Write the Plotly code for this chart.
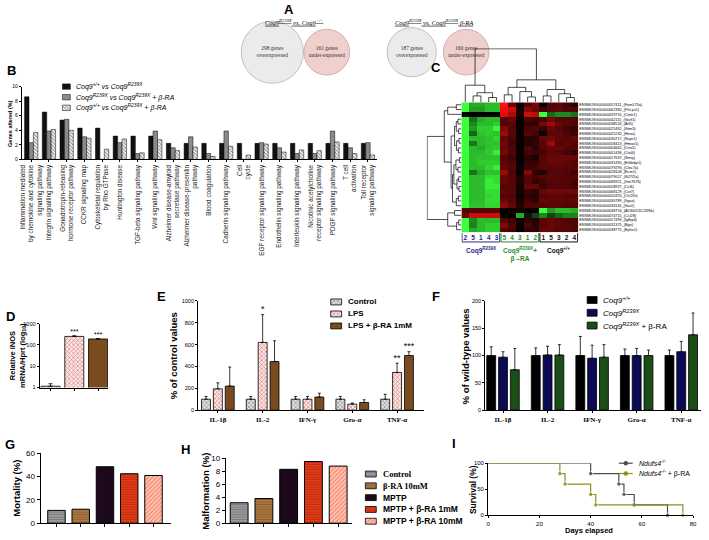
import plotly.graph_objects as go

W, H = 709, 540
def fx(p): return p / W
def fy(p): return 1 - p / H

SANS = "Liberation Sans, Arial, sans-serif"
SERIF = "Liberation Serif, Times New Roman, serif"

# ---------------- DATA ----------------
# Panel A
venn_titles = ["Coq9<sup>R239X</sup> vs. Coq9<sup>+/+</sup>",
               "Coq9<sup>R239X</sup> vs. Coq9<sup>R239X</sup> β-RA"]
venn_counts = [298, 161, 187, 160]
venn_text = ["298 genes<br>overexpressed", "161 genes<br>under-expressed",
             "187 genes<br>overexpressed", "160 genes<br>under-expressed"]
venn_pair = [0, 0, 1, 1]
venn_side = [0, 1, 0, 1]

# Panel B
pathways = [
    "Inflammation mediated<br>by chemokine and cytokine<br>signaling pathway",
    "Integrin signalling pathway",
    "Gonadotropin-releasing<br>hormone receptor pathway",
    "CCKR signaling map",
    "Cytoskeletal regulation<br>by Rho GTPase",
    "Huntington disease",
    "TGF-beta signaling pathway",
    "Wnt signaling pathway",
    "Alzheimer disease-amyloid<br>secretase pathway",
    "Alzheimer disease-presenilin<br>pathway",
    "Blood coagulation",
    "Cadherin signaling pathway",
    "Cell<br>cycle",
    "EGF receptor signaling pathway",
    "Endothelin signaling pathway",
    "Interleukin signaling pathway",
    "Nicotinic acetylcholine<br>receptor signaling pathway",
    "PDGF signaling pathway",
    "T cell<br>activation",
    "Toll receptor<br>signaling pathway",
]
b_wt_vs_mut = [8.6, 6.5, 5.4, 4.3, 4.3, 3.2, 3.2, 3.2, 2.2, 2.2, 2.2, 2.2, 2.2, 2.2, 2.2, 2.2, 2.2, 2.2, 2.2, 2.2]
b_mut_vs_bra = [2.3, 3.9, 5.5, 3.1, 0.0, 2.3, 0.8, 3.9, 1.6, 3.1, 0.8, 3.9, 0.0, 2.3, 1.6, 0.8, 0.8, 3.9, 1.6, 2.3]
b_wt_vs_bra = [3.7, 4.1, 4.0, 2.9, 1.4, 2.8, 0.9, 2.7, 1.2, 1.7, 0.4, 1.8, 0.6, 2.1, 1.0, 1.3, 1.2, 2.4, 0.8, 0.6]
b_legend = ["Coq9<sup>+/+</sup> vs Coq9<sup>R239X</sup>",
            "Coq9<sup>R239X</sup> vs Coq9<sup>R239X</sup> + β-RA",
            "Coq9<sup>+/+</sup> vs Coq9<sup>R239X</sup> + β-RA"]

# Panel C
heat_cols = ["2", "5", "1", "4", "3", "5", "4", "3", "1", "2", "1", "5", "3", "2", "4"]
heat_group = [0] * 5 + [1] * 5 + [2] * 5
heat_group_names = ["Coq9<sup>R239X</sup>", "Coq9<sup>R239X</sup>+<br>β –RA", "Coq9<sup>+/+</sup>"]
genes = ["ENSMUSG00000057411_(Fam173a)", "ENSMUSG00000062382_(Pitt-ps1)", "ENSMUSG00000029755_(Cmtr1)",
         "ENSMUSG00000042115_(Vezf1)", "ENSMUSG00000038526_(Atf5)", "ENSMUSG00000025492_(Ifitm3)",
         "ENSMUSG00000025232_(Hexa)", "ENSMUSG00000030717_(Nupr1)", "ENSMUSG00000058413_(Hmox1)",
         "ENSMUSG00000004665_(Cnn2)", "ENSMUSG00000001436_(Ctsl4)", "ENSMUSG00000017637_(Smaj)",
         "ENSMUSG00000031490_(Eif4ebp1)", "ENSMUSG00000079293_(Clec7a)", "ENSMUSG00000028108_(Ecm1)",
         "ENSMUSG00000079017_(Ifi27l2a)", "ENSMUSG00000068321_(Gm7676)", "ENSMUSG00000018927_(Ccl6)",
         "ENSMUSG00000068129_(Cst7)", "ENSMUSG00000050370_(Ch25h)", "ENSMUSG00000030789_(Itgax)",
         "ENSMUSG00000034116_(Vav1)", "ENSMUSG00000048754_(A530013C23Rik)", "ENSMUSG00000074715_(Ccl28)",
         "ENSMUSG00000017493_(Igfbp4)", "ENSMUSG00000031375_(Bgn)", "ENSMUSG00000038775_(Ephx1)"]
heat_z = [
    [-3, -2.0, -2.0, -2.2, -2.2, 3.0, 1.2, 0.2, 1.0, 1.4, 0.1, 1.0, 1.0, 0.8, 0.5],
    [-3, -1.8, -1.8, -2.2, -2.2, 2.8, 2.4, 0.2, 1.6, 1.2, 0.8, 1.0, 1.1, 0.9, 0.9],
    [0.0, 0.0, 0.0, 0.0, 0.0, 2.6, 2.0, 0.3, 2.4, 2.2, -3, -1.2, -1.6, -1.6, -1.3],
    [-3, -1.3, -2.0, -2.2, -2.2, 1.0, 1.2, 0.1, 0.8, 0.7, 0.9, 1.4, 1.0, 1.0, 0.9],
    [-3, -1.6, -2.2, -2.2, -2.4, 0.9, 1.0, 0.1, 0.6, 0.6, 1.4, 1.9, 1.2, 1.0, 1.0],
    [-3, -1.8, -2.4, -2.4, -2.9, 1.5, 1.0, 0.1, 0.8, 0.9, 0.7, 1.2, 1.0, 0.8, 0.6],
    [-3, -1.2, -2.3, -2.4, -2.3, 1.8, 1.0, 0.1, 1.0, 0.8, 0.2, 1.1, 1.1, 0.9, 0.8],
    [-3, -2.2, -2.2, -2.3, -2.5, 1.2, 0.9, 0.1, 0.5, 0.5, 1.2, 1.3, 1.1, 1.0, 1.2],
    [-3, -1.4, -2.2, -2.3, -2.3, 1.3, 0.8, 0.1, 0.4, 0.6, 1.0, 1.8, 1.0, 1.1, 1.0],
    [-3, -2.2, -2.0, -2.3, -2.4, 1.2, 0.9, 0.1, 0.9, 0.5, 1.0, 1.2, 1.2, 1.0, 1.0],
    [-3, -2.2, -2.2, -2.4, -2.8, 1.4, 0.9, 0.1, 0.8, 0.7, 0.8, 1.1, 1.0, 0.8, 0.6],
    [-3, -2.2, -2.3, -2.3, -2.3, 1.0, 0.8, 0.1, 0.5, 0.3, 1.0, 1.2, 1.2, 1.2, 1.2],
    [-3, -2.2, -2.4, -2.4, -2.4, 1.1, 0.9, 0.1, 0.6, 0.6, 1.0, 1.2, 1.2, 1.1, 1.0],
    [-3, -2.2, -2.2, -2.5, -2.8, 1.2, 1.0, 0.2, 0.7, 0.8, 1.0, 1.0, 1.1, 1.0, 1.0],
    [-3, -1.4, -2.0, -2.3, -2.3, 1.8, 0.9, 0.1, 1.5, 0.6, 0.4, 1.0, 1.0, 0.9, 0.7],
    [-3, -2.2, -2.2, -2.6, -2.6, 1.2, 1.0, 0.3, 1.0, 0.8, 1.0, 1.1, 1.0, 1.0, 1.0],
    [-3, -2.2, -2.2, -2.8, -2.6, 1.2, 1.0, 0.4, 1.0, 0.6, 0.8, 1.0, 1.0, 1.0, 0.8],
    [-3, -2.2, -2.2, -2.8, -2.8, 1.0, 1.0, 0.2, 1.2, 1.2, 0.7, 0.9, 0.9, 0.9, 0.8],
    [-3, -2.2, -2.2, -2.6, -2.6, 1.1, 1.0, 0.3, 0.7, 0.5, 1.2, 1.4, 1.3, 1.3, 1.3],
    [-3, -2.2, -2.2, -2.5, -2.6, 1.0, 0.9, 0.2, 0.6, 0.5, 1.0, 1.1, 1.1, 1.0, 0.9],
    [-3, -2.2, -2.2, -2.6, -2.6, 1.3, 1.0, 0.3, 0.8, 0.6, 1.2, 1.1, 1.1, 1.1, 1.2],
    [-3, -2.3, -2.3, -2.5, -2.5, 1.6, 1.2, 0.4, 1.0, 0.9, 1.0, 1.1, 1.1, 1.0, 1.0],
    [1.0, 1.0, 1.0, 1.0, 1.0, 0.1, 0.1, 0.2, 0.1, 0.1, -3, -1.8, -2.2, -2.2, -2.0],
    [1.2, 2.4, 2.4, 2.4, 2.4, 0.1, 0.1, -2.0, -0.3, -0.8, -1.5, -0.8, -1.2, -1.5, -1.5],
    [-3, -1.6, -2.2, -2.2, -2.2, 1.0, 0.7, 0.1, 0.6, 0.4, 1.0, 1.2, 1.0, 1.0, 0.9],
    [-3, -1.5, -2.2, -2.4, -2.4, 1.5, 0.9, 0.1, 0.9, 0.5, 1.0, 1.2, 1.1, 1.0, 0.9],
    [-3, -2.0, -2.2, -2.4, -2.4, 1.0, 0.8, 0.1, 0.6, 0.6, 1.2, 1.2, 1.0, 1.0, 0.9],
]
# hierarchical clustering merges: (node a, node b, height); new nodes numbered after the leaves
col_merges = [(1, 2, 1.2), (3, 4, 0.9), (15, 16, 1.8), (0, 17, 3.2),
              (5, 6, 1.4), (8, 9, 1.0), (7, 20, 2.0), (19, 21, 2.8),
              (10, 11, 1.2), (13, 14, 0.9), (12, 24, 1.6), (23, 25, 2.4),
              (22, 26, 4.2), (18, 27, 10.0)]
row_merges = [(0, 1, 1.5), (27, 2, 4.0),
              (3, 4, 1.0), (5, 6, 0.8), (29, 30, 1.5), (7, 8, 0.7), (9, 10, 0.9), (32, 33, 1.4),
              (31, 34, 2.0), (11, 12, 0.6), (13, 14, 1.0), (36, 37, 1.6), (15, 16, 0.8),
              (17, 18, 0.7), (39, 40, 1.3), (38, 41, 2.2), (19, 20, 0.9), (43, 21, 1.5),
              (42, 44, 2.6), (35, 45, 3.0),
              (22, 23, 2.0), (24, 25, 0.8), (48, 26, 1.4),
              (28, 46, 5.0), (47, 49, 4.0), (50, 51, 10.0)]

# Panel D
d_groups = ["Control", "LPS", "LPS + β-RA 1mM"]
d_vals = [1.15, 250, 190]
d_err = [0.35, 20, 8]

# Panel E
cytokines = ["IL-1β", "IL-2", "IFN-γ", "Gro-α", "TNF-α"]
e_control = [100, 100, 100, 100, 100]
e_control_err = [25, 25, 25, 25, 45]
e_lps = [195, 620, 100, 55, 345]
e_lps_err = [55, 255, 25, 10, 85]
e_lps_bra = [220, 445, 120, 70, 500]
e_lps_bra_err = [175, 190, 35, 25, 35]
e_stars_lps = ["", "*", "", "", "**"]
e_stars_bra = ["", "", "", "", "***"]

# Panel F
f_wt = [100, 100, 100, 100, 100]
f_wt_err = [16, 14, 35, 12, 10]
f_mut = [97, 101, 95, 100, 107]
f_mut_err = [10, 16, 24, 13, 19]
f_bra = [74, 101, 97, 100, 138]
f_bra_err = [39, 19, 23, 10, 40]
f_legend = ["<i>Coq9<sup>+/+</sup></i>", "<i>Coq9<sup>R239X</sup></i>", "<i>Coq9<sup>R239X</sup></i> + β-RA"]

# Panels G / H
gh_groups = ["Control", "β-RA 10mM", "MPTP", "MPTP + β-RA 1mM", "MPTP + β-RA 10mM"]
g_mortality = [11, 12, 48.5, 42.5, 41]
h_malformation = [3.15, 3.8, 8.3, 9.5, 8.8]

# Panel I
i_ctrl_days = [0, 40, 51, 53, 57, 70]
i_ctrl_surv = [100, 80, 60, 40, 20, 0]
i_bra_days = [0, 28, 30, 40, 42, 76]
i_bra_surv = [100, 80, 60, 40, 20, 0]
i_legend = ["<i>Ndufs4<sup>-/-</sup></i>", "<i>Ndufs4<sup>-/-</sup></i> + β-RA"]

# ---------------- FIGURE ----------------
fig = go.Figure()
annotations = []
shapes = []

def ann(x, y, text, size, xanchor="center", yanchor="middle", angle=0, family=SANS, color="black",
        xref="paper", yref="paper"):
    annotations.append(dict(x=x, y=y, xref=xref, yref=yref, text=text, showarrow=False,
                            xanchor=xanchor, yanchor=yanchor, textangle=angle,
                            font=dict(size=size, family=family, color=color)))

def axstyle(**kw):
    d = dict(showline=True, linecolor="black", linewidth=1, showgrid=False, zeroline=False,
             ticks="outside", ticklen=3, tickwidth=1, tickcolor="black",
             tickfont=dict(size=6, family=SANS), fixedrange=True)
    d.update(kw)
    return d

def pat(shape="", fg="black", bg="white", size=3, sol=0.35):
    return dict(shape=shape, fgcolor=fg, bgcolor=bg, size=size, solidity=sol)

def xdom(first_center_px, step_px, left_px, right_px):
    """category axis: domain in paper units and matching range in category units"""
    return [fx(left_px), fx(right_px)], [(left_px - first_center_px) / step_px, (right_px - first_center_px) / step_px]

layout = {}

# ---- Panel A: bubble circles (diameter ~ sqrt of gene count) ----
a_step = 55.0
ax = [p * 2.56 + s * 1.0 for p, s in zip(venn_pair, venn_side)]
fig.add_trace(go.Scatter(
    x=ax, y=[0] * 4, mode="markers+text", text=venn_text, textposition="middle center",
    textfont=dict(family=SERIF, size=5.5, color="#333"),
    marker=dict(size=[3.6 * c ** 0.5 for c in venn_counts], sizemode="diameter", sizeref=1,
                color=["#e3e3e3" if s == 0 else "#ebbdb7" for s in venn_side],
                line=dict(color=["#a8a8a8" if s == 0 else "#bb8e8a" for s in venn_side], width=1)),
    cliponaxis=False, xaxis="x2", yaxis="y2", hoverinfo="skip"))
dom, rng = xdom(272, a_step, 200, 530)
layout["xaxis2"] = dict(domain=dom, range=rng, visible=False, anchor="y2", fixedrange=True)
layout["yaxis2"] = dict(domain=[fy(80), fy(18)], range=[-1, 1], visible=False, anchor="x2", fixedrange=True)
for p, t in enumerate(venn_titles):
    ann(p * 2.56 + 0.4, fy(18), "<i><span style='text-decoration:underline'>" + t + "</span></i>", 6.5,
        family=SERIF, xref="x2")

# ---- Panel B ----
bw = 0.25
b_series = [(b_wt_vs_mut, "#111111", ""), (b_mut_vs_bra, "#8a8a8a", ""), (b_wt_vs_bra, "white", "\\")]
for k, (vals, col, shp) in enumerate(b_series):
    fig.add_trace(go.Bar(
        x=list(range(len(pathways))), y=vals, width=bw, offset=-1.5 * bw + k * bw,
        marker=dict(color=col, line=dict(color="black", width=0.5),
                    pattern=pat(shp, "black", col if not shp else "white", 2.5, 0.4)),
        xaxis="x", yaxis="y", hoverinfo="skip"))
dom, rng = xdom(28.5, 17.9, 19, 378)
layout["xaxis"] = axstyle(domain=dom, range=rng, anchor="y",
                          tickvals=list(range(len(pathways))), ticktext=pathways, tickangle=-90,
                          ticklen=2, tickfont=dict(size=6.4, family=SANS, color="#222"))
layout["yaxis"] = axstyle(domain=[fy(158), fy(84)], range=[0, 10], anchor="x",
                          tickvals=[0, 2, 4, 6, 8, 10], ticklen=2, tickfont=dict(size=5, family=SANS))
ann(fx(7), fy(121), "<b>Genes altered (%)</b>", 5.5, angle=-90)

# ---- Panel C: heatmap + dendrograms ----
HM_L, HM_R, HM_T, HM_B = 463, 581, 100, 232
fig.add_trace(go.Heatmap(
    z=heat_z, x=list(range(len(heat_cols))), y=list(range(len(genes))),
    zmin=-3, zmax=3, showscale=False,
    colorscale=[[0, "#3cff3c"], [0.5, "#000000"], [1, "#ff1010"]],
    xaxis="x3", yaxis="y3", hoverinfo="skip"))
grp_colors = ["#2a2a8a", "#2e8b2e", "#111111"]
layout["xaxis3"] = dict(domain=[fx(HM_L), fx(HM_R)], range=[-0.5, 14.5], anchor="y3",
                        tickvals=list(range(len(heat_cols))),
                        ticktext=["<span style='color:%s'><b>%s</b></span>" % (grp_colors[g], c)
                                  for c, g in zip(heat_cols, heat_group)],
                        tickfont=dict(size=6.5, family=SANS), ticks="", showline=False,
                        showgrid=False, zeroline=False, fixedrange=True)
layout["yaxis3"] = dict(domain=[fy(HM_B), fy(HM_T)], range=[len(genes) - 0.5, -0.5], anchor="x3", side="right",
                        tickvals=list(range(len(genes))), ticktext=genes,
                        tickfont=dict(size=3.8, family=SANS), ticks="", showline=False,
                        showgrid=False, zeroline=False, fixedrange=True)

def dendro(merges, n):
    pos = {i: float(i) for i in range(n)}
    hgt = {i: 0.0 for i in range(n)}
    ps, hs = [], []
    nid = n
    for a, b, h in merges:
        ps += [pos[a], pos[a], pos[b], pos[b], None]
        hs += [hgt[a], h, h, hgt[b], None]
        pos[nid] = (pos[a] + pos[b]) / 2
        hgt[nid] = h
        nid += 1
    return ps, hs

cp, ch = dendro(col_merges, len(heat_cols))
fig.add_trace(go.Scatter(x=cp, y=ch, mode="lines", line=dict(color="black", width=0.7),
                         xaxis="x4", yaxis="y4", hoverinfo="skip"))
layout["xaxis4"] = dict(domain=[fx(HM_L), fx(HM_R)], range=[-0.5, 14.5], visible=False, anchor="y4", fixedrange=True)
layout["yaxis4"] = dict(domain=[fy(HM_T), fy(45)], range=[0, 10.1], visible=False, anchor="x4", fixedrange=True)

rp, rh = dendro(row_merges, len(genes))
fig.add_trace(go.Scatter(x=rh, y=rp, mode="lines", line=dict(color="black", width=0.7),
                         xaxis="x5", yaxis="y5", hoverinfo="skip"))
layout["xaxis5"] = dict(domain=[fx(428), fx(HM_L)], range=[10.1, 0], visible=False, anchor="y5", fixedrange=True)
layout["yaxis5"] = dict(domain=[fy(HM_B), fy(HM_T)], range=[len(genes) - 0.5, -0.5], visible=False,
                        anchor="x5", fixedrange=True)

for g in range(3):
    members = [i for i, gg in enumerate(heat_group) if gg == g]
    x0, x1 = members[0] - 0.42, members[-1] + 0.42
    shapes.append(dict(type="path", xref="x3", yref="paper",
                       path="M %f,%f L %f,%f L %f,%f L %f,%f" % (x0, fy(HM_B + 1), x0, fy(HM_B + 10),
                                                                 x1, fy(HM_B + 10), x1, fy(HM_B + 1)),
                       line=dict(color=grp_colors[g], width=1)))
    xc = (members[0] + members[-1]) / 2
    ann(xc, fy(HM_B + 12), "<b>" + heat_group_names[g] + "</b>", 6.5, yanchor="top", xref="x3",
        color=grp_colors[g])

# ---- Panel D ----
d_cols = ["#bbbbbb", "#e8a0a0", "#7a4b1f"]
d_styles = [pat("x", "#555", "#e0e0e0", 3, 0.45), pat("x", "#c0392b", "#fbe8e8", 3, 0.45),
            pat("", "#7a4b1f", "#7a4b1f")]
for k in range(3):
    fig.add_trace(go.Bar(x=[k], y=[d_vals[k]], width=0.8, offset=-0.4,
                         marker=dict(color=d_cols[k], line=dict(color="black", width=0.8), pattern=d_styles[k]),
                         error_y=dict(type="data", array=[d_err[k]], arrayminus=[0], symmetric=False,
                                      color="black", thickness=0.8, width=2),
                         xaxis="x6", yaxis="y6", hoverinfo="skip"))
fig.add_trace(go.Scatter(x=[1, 2], y=[(d_vals[1] + d_err[1]) * 1.5, (d_vals[2] + d_err[2]) * 1.5],
                         mode="text", text=["***", "***"], textfont=dict(size=7, family=SANS),
                         cliponaxis=False, xaxis="x6", yaxis="y6", hoverinfo="skip"))
dom, rng = xdom(48, 24, 37, 106)
layout["xaxis6"] = axstyle(domain=dom, range=rng, anchor="y6",
                           tickvals=[0, 1, 2], showticklabels=False, ticklen=2)
layout["yaxis6"] = axstyle(domain=[fy(390), fy(325)], type="log", range=[0, 3], anchor="x6",
                           tickvals=[1, 10, 100, 1000], ticktext=["1", "10", "100", "1000"],
                           ticklen=2, tickfont=dict(size=5.5, family=SANS))
ann(fx(14), fy(357), "<b>Relative iNOS<br>mRNA/Hprt (log<sub>10</sub>)</b>", 7.5, angle=-90)

# ---- Panel E ----
ew, eg = 0.2, 0.065
e_series = [(e_control, e_control_err, "#bbbbbb", pat("x", "#555", "#e0e0e0", 3, 0.45)),
            (e_lps, e_lps_err, "#e8a0a0", pat("x", "#c0392b", "#fbe8e8", 3, 0.45)),
            (e_lps_bra, e_lps_bra_err, "#7a4b1f", pat("", "#7a4b1f", "#7a4b1f"))]
for k, (vals, err, col, pt) in enumerate(e_series):
    off = -1.5 * ew - eg + k * (ew + eg)
    fig.add_trace(go.Bar(x=list(range(5)), y=vals, width=ew, offset=off,
                         marker=dict(color=col, line=dict(color="black", width=0.8), pattern=pt),
                         error_y=dict(type="data", array=err, arrayminus=[0] * 5, symmetric=False,
                                      color="black", thickness=0.8, width=1.5),
                         xaxis="x7", yaxis="y7", hoverinfo="skip"))
for k, (vals, err, stars) in enumerate([(e_lps, e_lps_err, e_stars_lps), (e_lps_bra, e_lps_bra_err, e_stars_bra)]):
    off = -1.5 * ew - eg + (k + 1) * (ew + eg) + ew / 2
    idx = [i for i, s in enumerate(stars) if s]
    fig.add_trace(go.Scatter(x=[i + off for i in idx], y=[vals[i] + err[i] + 45 for i in idx],
                             mode="text", text=[stars[i] for i in idx], textfont=dict(size=9, family=SANS),
                             cliponaxis=False, xaxis="x7", yaxis="y7", hoverinfo="skip"))
dom, rng = xdom(217, 45.25, 197, 425)
layout["xaxis7"] = axstyle(domain=dom, range=rng, anchor="y7",
                           tickvals=list(range(5)), ticktext=["<b>%s</b>" % c for c in cytokines],
                           tickfont=dict(size=7, family=SERIF), ticklen=2)
layout["yaxis7"] = axstyle(domain=[fy(413), fy(302)], range=[0, 1000], anchor="x7",
                           tickvals=[0, 200, 400, 600, 800, 1000], ticklen=2,
                           tickfont=dict(size=5.5, family=SANS))
ann(fx(172), fy(358), "<b>% of control values</b>", 9.5, angle=-90)

# ---- Panel F ----
f_series = [(f_wt, f_wt_err, "#000000"), (f_mut, f_mut_err, "#0b0b55"), (f_bra, f_bra_err, "#1b4d16")]
for k, (vals, err, col) in enumerate(f_series):
    off = -1.5 * ew - eg + k * (ew + eg)
    fig.add_trace(go.Bar(x=list(range(5)), y=vals, width=ew, offset=off,
                         marker=dict(color=col, line=dict(color="black", width=0.8)),
                         error_y=dict(type="data", array=err, arrayminus=[0] * 5, symmetric=False,
                                      color="black", thickness=0.8, width=1.5),
                         xaxis="x8", yaxis="y8", hoverinfo="skip"))
dom, rng = xdom(505, 45, 487, 705)
layout["xaxis8"] = axstyle(domain=dom, range=rng, anchor="y8",
                           tickvals=list(range(5)), ticktext=["<b>%s</b>" % c for c in cytokines],
                           tickfont=dict(size=7, family=SERIF), ticklen=2)
layout["yaxis8"] = axstyle(domain=[fy(413), fy(302)], range=[0, 200], anchor="x8",
                           tickvals=[0, 50, 100, 150, 200], ticklen=2, tickfont=dict(size=5.5, family=SANS))
ann(fx(467), fy(358), "<b>% of wild-type values</b>", 9.5, angle=-90)

# ---- Panels G / H ----
gh_styles = [("#8c8c8c", pat("-", "#5a5a5a", "#9a9a9a", 2.5, 0.35)),
             ("#9b6b35", pat("-", "#6b4520", "#a87840", 2.5, 0.35)),
             ("#1c0a1c", pat("", "#1c0a1c", "#1c0a1c")),
             ("#d4300f", pat("-", "#a02008", "#e03a18", 2.5, 0.35)),
             ("#ffb8a8", pat("/", "#e8401a", "#ffc8b8", 3, 0.4))]
for vals, xa, ya in [(g_mortality, "x9", "y9"), (h_malformation, "x10", "y10")]:
    for k in range(5):
        col, pt = gh_styles[k]
        fig.add_trace(go.Bar(x=[k], y=[vals[k]], width=0.72, offset=-0.36,
                             marker=dict(color=col, line=dict(color="black", width=1), pattern=pt),
                             xaxis=xa, yaxis=ya, hoverinfo="skip"))
dom, rng = xdom(54, 24.5, 38, 170)
layout["xaxis9"] = axstyle(domain=dom, range=rng, anchor="y9", tickvals=list(range(5)), showticklabels=False)
layout["yaxis9"] = axstyle(domain=[fy(528), fy(457)], range=[0, 60], anchor="x9",
                           tickvals=[0, 20, 40, 60], tickfont=dict(size=8, family=SANS))
dom, rng = xdom(238.5, 25, 225, 352)
layout["xaxis10"] = axstyle(domain=dom, range=rng, anchor="y10", tickvals=list(range(5)), showticklabels=False)
layout["yaxis10"] = axstyle(domain=[fy(528), fy(462)], range=[0, 10], anchor="x10",
                            tickvals=[0, 2, 4, 6, 8, 10], tickfont=dict(size=8, family=SANS))
ann(fx(14), fy(492), "<b>Mortality (%)</b>", 9.5, angle=-90)
ann(fx(205), fy(495), "<b>Malformation (%)</b>", 9.5, angle=-90)

# ---- Panel I ----
for days, surv, col in [(i_ctrl_days, i_ctrl_surv, "#4d4d4d"), (i_bra_days, i_bra_surv, "#8f8f1c")]:
    fig.add_trace(go.Scatter(x=days, y=surv, mode="lines+markers", line=dict(color=col, width=1.2, shape="hv"),
                             marker=dict(color=col, size=[0] + [4.5] * (len(days) - 1)),
                             cliponaxis=False, xaxis="x11", yaxis="y11", hoverinfo="skip"))
layout["xaxis11"] = axstyle(domain=[fx(490), fx(697)], range=[0, 80], anchor="y11",
                            tickvals=[0, 20, 40, 60, 80], ticklen=2, tickfont=dict(size=6, family=SANS))
layout["yaxis11"] = axstyle(domain=[fy(520), fy(467)], range=[0, 100], anchor="x11",
                            tickvals=[0, 50, 100], ticklen=2, tickfont=dict(size=6, family=SANS))
ann(fx(474), fy(494), "<b>Survival (%)</b>", 8.5, angle=-90)
ann(fx(592), fy(535), "<b>Days elapsed</b>", 7.5)

# ---- Legends (overlay axis in pixel units) ----
layout["xaxis12"] = dict(domain=[0, 1], range=[0, W], visible=False, anchor="y12", fixedrange=True)
layout["yaxis12"] = dict(domain=[0, 1], range=[H, 0], visible=False, anchor="x12", fixedrange=True)

def swatch(x0, yc, w, h, col, pt, lw=0.8):
    fig.add_trace(go.Bar(orientation="h", y=[yc], x=[w], base=[x0], width=h, offset=-h / 2,
                         marker=dict(color=col, line=dict(color="black", width=lw), pattern=pt),
                         xaxis="x12", yaxis="y12", hoverinfo="skip"))

for k, (txt, (vals, col, shp)) in enumerate(zip(b_legend, b_series)):
    yc = 84 + k * 10.8
    swatch(60, yc, 8, 5.5, col, pat(shp, "black", col if not shp else "white", 2.5, 0.4), 0.5)
    ann(fx(72), fy(yc), "<i>" + txt + "</i>", 7, xanchor="left")
for k, txt in enumerate(d_groups):
    yc = 303 + k * 12.2
    swatch(331, yc, 11, 6, e_series[k][2], e_series[k][3])
    ann(fx(346), fy(yc), "<b>%s</b>" % txt, 8, xanchor="left")
for k, txt in enumerate(f_legend):
    yc = 301 + k * 13
    swatch(590, yc, 10, 7, f_series[k][2], pat())
    ann(fx(604), fy(yc), txt, 8, xanchor="left")
for k, txt in enumerate(gh_groups):
    yc = 478 + k * 12
    col, pt = gh_styles[k]
    swatch(366, yc, 11, 6, col, pt)
    fam = SERIF if k < 2 else SANS
    ann(fx(382), fy(yc), "<b>%s</b>" % txt, 8.5, xanchor="left", family=fam)
for k, (txt, col) in enumerate(zip(i_legend, ["#4d4d4d", "#8f8f1c"])):
    yc = 467 + k * 10.5
    fig.add_trace(go.Scatter(x=[622, 636], y=[yc, yc], mode="lines", line=dict(color=col, width=1.2),
                             xaxis="x12", yaxis="y12", hoverinfo="skip"))
    fig.add_trace(go.Scatter(x=[629], y=[yc], mode="markers", marker=dict(color=col, size=4.5),
                             xaxis="x12", yaxis="y12", hoverinfo="skip"))
    ann(fx(640), fy(yc), txt, 7, xanchor="left")

# ---- Panel letters ----
for letter, (px, py) in {"A": (289, 6), "B": (9, 68), "C": (437, 65), "D": (8, 318), "E": (160, 297),
                         "F": (437, 297), "G": (7, 448), "H": (184, 453), "I": (455, 447)}.items():
    ann(fx(px), fy(py), "<b>%s</b>" % letter, 13)

fig.update_layout(width=W, height=H, margin=dict(l=0, r=0, t=0, b=0), paper_bgcolor="white",
                  plot_bgcolor="rgba(0,0,0,0)", showlegend=False, barmode="overlay",
                  font=dict(family=SANS, color="black"), annotations=annotations, shapes=shapes,
                  **layout)
fig.write_html("out.html", config={"displayModeBar": False},
               post_script="document.body.style.margin='0px';")
